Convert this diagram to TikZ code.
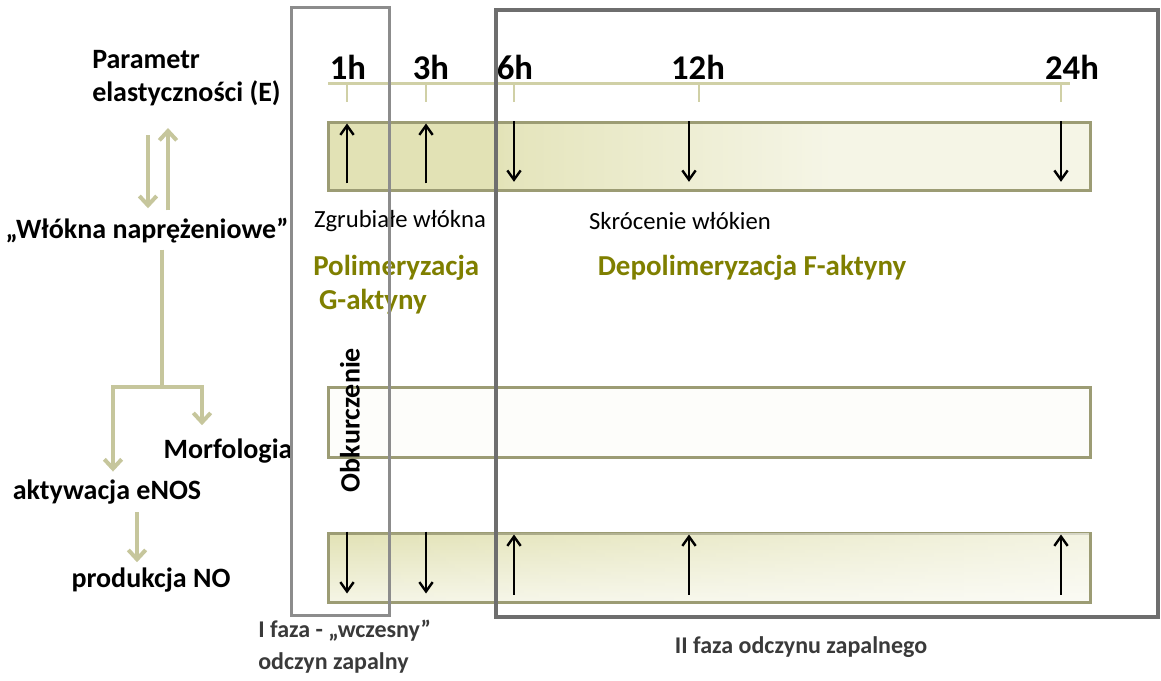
\documentclass[tikz,border=0pt]{standalone}
\usepackage{fontspec}
\setmainfont{Carlito}
\usetikzlibrary{arrows.meta, positioning, fit, fadings}
\definecolor{barline}{HTML}{9C9C74}
\definecolor{bardark}{HTML}{E2E2B5}
\definecolor{barlight}{HTML}{F5F5E6}
\definecolor{midfill}{HTML}{FDFDFA}
\definecolor{flowcol}{HTML}{C6C69C}
\definecolor{axiscol}{HTML}{D0D0A6}
\definecolor{olivetxt}{HTML}{7F7F00}
\definecolor{phaseone}{HTML}{8C8C8C}
\definecolor{phasetwo}{HTML}{6E6E6E}
\definecolor{notetxt}{HTML}{3A3A3A}
\pgfdeclarehorizontalshading{topfade}{100bp}{color(0bp)=(bardark); color(36bp)=(bardark); color(37bp)=(bardark!85!barlight); color(58bp)=(barlight); color(100bp)=(barlight)}
\tikzfading[name=fadetoright, left color=transparent!100, right color=transparent!0]
\tikzset{
	lefttext/.style={
			font=\bfseries\fontsize{21}{24.75}\selectfont,
			inner sep=0pt
		},
	timelabel/.style={
			font=\bfseries\fontsize{26}{30}\selectfont,
			inner sep=0pt,
			anchor=base
		},
	smalltext/.style={
			font=\fontsize{18.5}{22}\selectfont,
			inner sep=0pt
		},
	greentext/.style={
			font=\bfseries\fontsize{21.7}{25.5}\selectfont,
			text=olivetxt,
			inner sep=0pt
		},
	phasetext/.style={
			font=\bfseries\fontsize{18}{24}\selectfont,
			text=notetxt,
			inner sep=0pt
		},
	timebar/.style={
			draw=barline,
			line width=2.25pt,
			inner sep=0pt
		},
	phasebox/.style={
			inner sep=0pt
		},
	flowline/.style={
			draw=flowcol,
			line width=3pt
		},
	flow/.style={
			flowline,
			-{Straight Barb[length=7pt,width=13pt]}
		},
	barrow/.style={
			line width=1.8pt,
			-{Straight Barb[length=7pt,width=10pt]}
		},
	axis/.style={
			draw=axiscol,
			line width=2.25pt
		},
	tick/.style={
			draw=axiscol,
			line width=1.5pt
		}
}

\begin{document}
\begin{tikzpicture}[x=0.75pt, y=-0.75pt]
\useasboundingbox (0,0) rectangle (1161,681);

% left column
\node[lefttext, align=left, anchor=west] (pE) at (92,78) {Parametr\\elastyczności (E)};
\node[lefttext] (wn) at (147,231) {„Włókna naprężeniowe”};
\node[lefttext] (mo) at (228,451) {Morfologia};
\node[lefttext] (en) at (107,492) {aktywacja eNOS};
\node[lefttext] (no) at (151,580) {produkcja NO};

\coordinate (xd) at (148,0);
\coordinate (xu) at (168,0);
\coordinate (xm) at (202,0);
\coordinate (xe) at (113,0);
\coordinate (xn) at (137,0);
\coordinate (split) at (162,387);

\draw[flow, shorten <=22pt, shorten >=7.5pt] (pE.south -| xd) -- (wn.north -| xd);
\draw[flow, shorten <=6pt, shorten >=16.5pt] (wn.north -| xu) -- (pE.south -| xu);
\draw[flowline, shorten <=4.5pt] (wn.south -| split) -- (split);
\draw[flow, shorten >=10pt] (split) -| (mo.north -| xm);
\draw[flow, shorten >=6pt] (split) -| (en.north -| xe);
\draw[flow, shorten <=6pt, shorten >=4pt] (en.south -| xn) -- (no.north -| xn);

% time axis
\coordinate (axL) at (328,84);
\coordinate (axR) at (1070,84);
\draw[axis] (axL) -- (axR);
\foreach \x/\t/\lx [count=\i] in {347/1h/348, 426/3h/431, 514/6h/515, 699/12h/698, 1061/24h/1072} {
  \coordinate (k\i) at (\x,84);
  \draw[tick] (k\i) -- ++(0,18);
  \node[timelabel] (h\i) at (\lx,80) {\t};
}

% bars
\node[timebar, fit={(328,123) (1090,191)}, shading=topfade] (topbar) {};
\node[timebar, fit={(328,387) (1090,457)}, fill=midfill] (midbar) {};
\node[timebar, fit={(328,533) (1090,602)}, top color=bardark, bottom color=barlight] (botbar) {};
\fill[white, path fading=fadetoright, fill opacity=0.6] ([shift={(1.5pt,1.5pt)}]botbar.south west) rectangle ([shift={(-1.5pt,-1.5pt)}]botbar.north east);

\foreach \x [count=\i] in {347,426,514,689,1061} \coordinate (b\i) at (\x,0);
\foreach \i/\s/\e/\p/\q in {1/south/north/6.75pt/1.5pt, 2/south/north/6.75pt/1.5pt, 3/north/south/0pt/8pt, 4/north/south/0pt/8pt, 5/north/south/0pt/8pt}
  \draw[barrow, shorten <=\p, shorten >=\q] (topbar.\s -| b\i) -- (topbar.\e -| b\i);
\foreach \i/\s/\e/\p/\q in {1/north/south/0pt/7.5pt, 2/north/south/0pt/7.5pt, 3/south/north/6.75pt/2.25pt, 4/south/north/6.75pt/2.25pt, 5/south/north/6.75pt/2.25pt}
  \draw[barrow, shorten <=\p, shorten >=\q] (botbar.\s -| b\i) -- (botbar.\e -| b\i);

\node[lefttext, rotate=90] (ob) at (350,420) {Obkurczenie};

% texts in the phases
\node[smalltext] (zg) at (400,221) {Zgrubiałe włókna};
\node[smalltext] (sk) at (680,221) {Skrócenie włókien};
\node[greentext, align=left, anchor=west] (pg) at (313,285) {Polimeryzacja\\\hspace{0.2em}G-aktyny};
\node[greentext] (dp) at (752,268) {Depolimeryzacja F-aktyny};

\node[phasetext, align=left, anchor=west] (f1) at (258,647) {I faza - „wczesny”\\odczyn zapalny};
\node[phasetext] (f2) at (801,647) {II faza odczynu zapalnego};

% phase boxes
\node[phasebox, draw=phaseone, line width=2.25pt, fit={(291,8) (389,615)}] (ph1) {};
\node[phasebox, draw=phasetwo, line width=3pt, fit={(496,10) (1158,617)}] (ph2) {};
\end{tikzpicture}
\end{document}
